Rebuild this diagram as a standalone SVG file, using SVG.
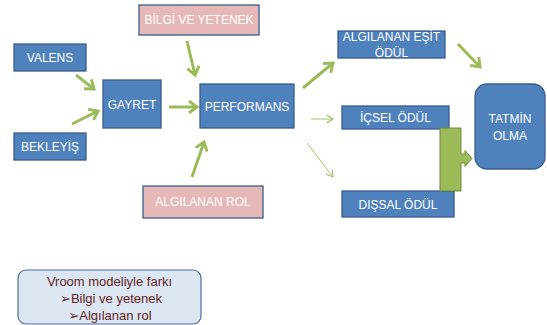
<svg xmlns="http://www.w3.org/2000/svg" width="547" height="325" viewBox="0 0 547 325">
<defs>
<style>
.blue{fill:#4f81bd;stroke:#385d8a;stroke-width:1.3}
.pink{fill:#e6b9b8;stroke:#385d8a;stroke-width:1.3}
.t{font-family:"Liberation Sans","DejaVu Sans",sans-serif;font-size:12px;fill:#ffffff;text-anchor:middle}
.v{font-family:"Liberation Sans","DejaVu Sans",sans-serif;font-size:13px;fill:#632523;text-anchor:middle}
.a{stroke:#9bbb59;stroke-width:3;fill:none}
.thin{stroke:#9bbb59;stroke-width:0.9;fill:none}
</style>
<marker id="ah" markerUnits="userSpaceOnUse" markerWidth="14" markerHeight="14" viewBox="-10 -7 12 14" refX="0" refY="0" orient="auto">
<path d="M-8,-6 L0,0 L-8,6" fill="none" stroke="#9bbb59" stroke-width="3"/>
</marker>
<marker id="ahs" markerUnits="userSpaceOnUse" markerWidth="10" markerHeight="10" viewBox="-6 -4 7 8" refX="0" refY="0" orient="auto">
<path d="M-5,-3 L0,0 L-5,3" fill="none" stroke="#9bbb59" stroke-width="0.9"/>
</marker>
</defs>

<g id="connectors">
<line class="a" x1="76" y1="75" x2="94" y2="89" marker-end="url(#ah)"/>
<line class="a" x1="72" y1="124" x2="98" y2="111" marker-end="url(#ah)"/>
<line class="a" x1="169" y1="107" x2="197" y2="107" marker-end="url(#ah)"/>
<line class="a" x1="187" y1="41" x2="195" y2="75" marker-end="url(#ah)"/>
<line class="a" x1="192" y1="177" x2="204" y2="142" marker-end="url(#ah)"/>
<line class="a" x1="303" y1="88" x2="333" y2="63" marker-end="url(#ah)"/>
<line class="a" x1="458" y1="44" x2="480" y2="67" marker-end="url(#ah)"/>
<line class="thin" x1="311" y1="119" x2="333" y2="119" marker-end="url(#ahs)"/>
<line class="thin" x1="307" y1="143" x2="333" y2="177" marker-end="url(#ahs)"/>
</g>

<g id="bilgi"><rect class="pink" x="139" y="5" width="120" height="30"/><text class="t" x="199" y="24">BİLGİ VE YETENEK</text></g>
<g id="valens"><rect class="blue" x="14" y="44" width="72" height="27"/><text class="t" x="50" y="62">VALENS</text></g>
<g id="bekleyis"><rect class="blue" x="14" y="133" width="72" height="27"/><text class="t" x="50" y="151">BEKLEYİŞ</text></g>
<g id="gayret"><rect class="blue" x="103" y="80" width="58" height="48"/><text class="t" x="132" y="109">GAYRET</text></g>
<g id="performans"><rect class="blue" x="200" y="84" width="94" height="44"/><text class="t" x="247" y="111">PERFORMANS</text></g>
<g id="algrol"><rect class="pink" x="143" y="186" width="120" height="32"/><text class="t" x="203" y="206">ALGILANAN ROL</text></g>
<g id="esit"><rect class="blue" x="338" y="31" width="107" height="27"/><text class="t" x="391.5" y="41">ALGILANAN EŞİT</text><text class="t" x="391.5" y="57">ÖDÜL</text></g>
<g id="icsel"><rect class="blue" x="342" y="106" width="107" height="23"/><text class="t" x="395.5" y="122">İÇSEL ÖDÜL</text></g>
<g id="dissal"><rect class="blue" x="342" y="191" width="112" height="26"/><text class="t" x="398" y="209">DIŞSAL ÖDÜL</text></g>
<g id="tatmin"><rect class="blue" x="475" y="84" width="70" height="85" rx="12"/><text class="t" x="510" y="123">TATMİN</text><text class="t" x="510" y="140">OLMA</text></g>
<g id="bracket"><path d="M440,128 H461 V154 H465 V150.5 L472,158.5 L465,166.5 V163 H461 V191 H440 Z" fill="#9bbb59" stroke="#71893f" stroke-width="1"/></g>
<g id="vroom"><rect x="18" y="270" width="183" height="54" rx="8" fill="#dce6f2" stroke="#4f6d9a" stroke-width="1.2"/>
<text class="v" x="109.5" y="286">Vroom modeliyle farkı</text>
<text class="v" x="111" y="303">➢Bilgi ve yetenek</text>
<text class="v" x="110" y="320">➢Algılanan rol</text></g>
</svg>
